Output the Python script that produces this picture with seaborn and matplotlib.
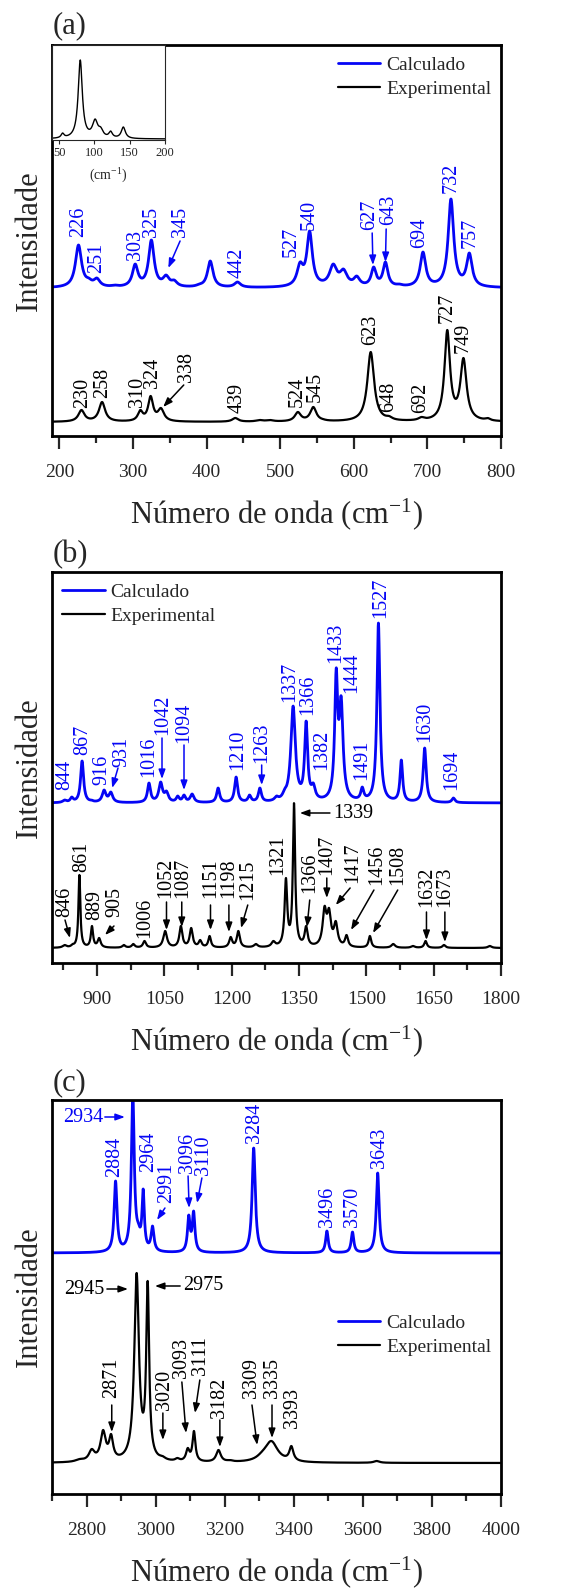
import numpy as np
import pandas as pd
import matplotlib
matplotlib.use("Agg")
import matplotlib.pyplot as plt
from matplotlib.ticker import FixedLocator
import seaborn as sns

sns.set_style("ticks")
plt.rcParams["font.family"] = ["Liberation Serif", "DejaVu Serif"]
plt.rcParams["mathtext.fontset"] = "custom"
plt.rcParams["mathtext.rm"] = "Liberation Serif"
plt.rcParams["mathtext.it"] = "Liberation Serif:italic"

BLUE = "#0505f5"
BLACK = "#000000"

# ---------------- Raman bands (cm-1), intensities (a.u.), FWHM (cm-1) ----------------
# (a) 190-800 cm-1
a_calc_pos = [226, 240, 251, 275, 303, 325, 345, 356, 390, 405, 442, 527, 540, 572, 586, 604, 627, 643, 662, 694, 732, 757]
a_calc_int = [43, 10, 10, 3, 24, 48, 13, 8, 4, 27, 6, 26, 57, 24, 19, 12, 21, 26, 4, 36, 89, 35]
a_calc_fwhm = [10, 10, 10, 10, 9, 9, 10, 10, 10, 9, 10, 10, 9, 12, 12, 10, 8, 8, 10, 9, 9, 9]

a_exp_pos = [230, 258, 310, 324, 338, 439, 472, 486, 524, 545, 558, 623, 648, 692, 727, 749, 782]
a_exp_int = [12, 20, 12, 26, 14, 4, 2, 2, 10, 15, 3, 70, 6, 5, 92, 64, 4]
a_exp_fwhm = [10, 10, 8, 8, 10, 10, 12, 12, 10, 10, 10, 11, 10, 10, 9, 10, 8]

# low-wavenumber inset (40-200 cm-1)
ins_pos = [55, 80, 101, 109, 123, 141]
ins_int = [6, 79, 20, 12, 8, 12]
ins_fwhm = [5, 7, 9, 8, 6, 7]

# (b) 800-1800 cm-1
b_calc_pos = [828, 844, 867, 888, 916, 931, 1016, 1042, 1055, 1080, 1094, 1112, 1170, 1210, 1240, 1263, 1300,
              1318, 1337, 1366, 1382, 1433, 1444, 1491, 1527, 1578, 1630, 1694]
b_calc_int = [3, 6, 42, 3, 13, 11, 20, 21, 12, 7, 8, 9, 15, 26, 8, 15, 7,
              14, 97, 82, 20, 135, 107, 16, 180, 43, 55, 5]
b_calc_fwhm = [10, 8, 8, 8, 10, 10, 8, 10, 10, 8, 8, 10, 8, 8, 8, 8, 10,
               10, 12, 8, 10, 8, 10, 8, 8, 7, 8, 8]

b_exp_pos = [828, 846, 861, 889, 905, 960, 981, 1006, 1052, 1087, 1110, 1130, 1151, 1198, 1215, 1254, 1293,
             1321, 1339, 1366, 1407, 1417, 1432, 1456, 1508, 1560, 1604, 1632, 1673, 1775]
b_exp_int = [3, 4, 73, 22, 10, 3, 4, 7, 17, 22, 20, 8, 12, 11, 17, 4, 7,
             70, 145, 22, 42, 40, 27, 13, 12, 4, 2, 7, 3, 2]
b_exp_fwhm = [10, 8, 5, 6, 8, 8, 8, 8, 10, 8, 8, 8, 7, 8, 8, 10, 10,
              7, 6, 8, 10, 10, 10, 8, 7, 10, 10, 7, 8, 10]

# (c) 2700-4000 cm-1
c_calc_pos = [2884, 2934, 2950, 2964, 2991, 3096, 3110, 3284, 3496, 3570, 3643]
c_calc_int = [72, 160, 30, 64, 27, 38, 42, 105, 22, 21, 80]
c_calc_fwhm = [10, 10, 14, 8, 10, 9, 9, 11, 9, 9, 10]

c_exp_pos = [2780, 2815, 2848, 2871, 2945, 2977, 3020, 3063, 3093, 3111, 3182, 3215, 3309, 3335, 3393, 3640]
c_exp_int = [4, 14, 33, 29, 190, 182, 7, 5, 15, 32, 13, 3, 12, 22, 17, 2]
c_exp_fwhm = [30, 20, 18, 14, 16, 10, 20, 15, 12, 10, 16, 20, 40, 45, 14, 20]

# ---------------- band labels ----------------
a_calc_labels = ["226", "251", "303", "325", "345", "442", "527", "540", "627", "643", "694", "732", "757"]
a_exp_labels = ["230", "258", "310", "324", "338", "439", "524", "545", "623", "648", "692", "727", "749"]
b_calc_labels = ["844", "867", "916", "931", "1016", "1042", "1094", "1210", "1263", "1337", "1366", "1382",
                 "1433", "1444", "1491", "1527", "1630", "1694"]
b_exp_labels = ["846", "861", "889", "905", "1006", "1052", "1087", "1151", "1198", "1215", "1321", "1366",
                "1407", "1417", "1456", "1508", "1632", "1673"]
c_calc_labels = ["2884", "2964", "2991", "3096", "3110", "3284", "3496", "3570", "3643"]
c_exp_labels = ["2871", "3020", "3093", "3111", "3182", "3309", "3335", "3393"]

# label placement: (x, y of text foot, arrow tail, arrow tip)
a_calc_place = [(226, 199, None, None), (251, 163, None, None), (303, 176, None, None), (325, 199, None, None),
                (364, 199, (364, 195), (348, 168)), (442, 158, None, None), (515, 179, None, None),
                (540, 206, None, None), (622, 206, (625, 203), (626, 171)), (647, 211, (644, 207), (643, 174)),
                (690, 188, None, None), (732, 243, None, None), (758, 188, None, None)]
a_exp_place = [(231, 28, None, None), (259, 38, None, None), (306, 29, None, None), (326, 48, None, None),
               (373, 54, (369, 51), (341, 29)), (441, 23, None, None), (523, 29, None, None),
               (547, 34, None, None), (623, 91, None, None), (647, 24, None, None), (691, 23, None, None),
               (727, 113, None, None), (748, 83, None, None)]
b_calc_place = [(829, 173, None, None), (869, 208, None, None), (911, 178, None, None),
                (955, 196, (947, 195), (934, 175)), (1016, 186, None, None),
                (1047, 228, (1045, 225), (1045, 184)), (1094, 220, (1094, 218), (1094, 173)),
                (1214, 193, None, None), (1267, 200, (1267, 198), (1267, 178)), (1330, 261, None, None),
                (1369, 248, None, None), (1401, 193, None, None), (1433, 300, None, None),
                (1468, 270, None, None), (1490, 183, None, None), (1531, 345, None, None),
                (1631, 221, None, None), (1691, 173, None, None)]
b_exp_place = [(829, 46, (829, 43), (840, 25)), (866, 91, None, None), (896, 43, None, None),
               (940, 46, (938, 37), (918, 28)), (1007, 25, None, None), (1053, 65, (1055, 61), (1055, 33)),
               (1091, 65, (1089, 61), (1089, 36)), (1153, 65, (1153, 58), (1153, 33)),
               (1194, 65, (1194, 58), (1194, 31)), (1236, 63, (1236, 58), (1221, 35)),
               (1303, 88, None, None), (1375, 70, (1374, 63), (1368, 36)), (1412, 88, (1412, 85), (1412, 65)),
               (1470, 80, (1464, 75), (1432, 58)), (1523, 78, (1517, 73), (1466, 33)),
               (1571, 78, (1570, 73), (1515, 30)), (1634, 56, (1634, 51), (1634, 23)),
               (1675, 56, (1675, 51), (1675, 21))]
c_calc_place = [(2880, 317, None, None), (2981, 322, None, None), (3033, 291, (3027, 286), (3004, 274)),
                (3091, 321, (3094, 318), (3097, 286)), (3140, 319, (3134, 316), (3120, 291)),
                (3285, 351, None, None), (3499, 267, None, None), (3569, 267, None, None),
                (3647, 326, None, None)]
c_exp_place = [(2873, 96, (2873, 89), (2873, 62)), (3027, 84, (3021, 81), (3021, 54)),
               (3076, 116, (3076, 112), (3088, 61)), (3131, 119, (3128, 114), (3114, 81)),
               (3186, 76, (3186, 74), (3186, 47)), (3279, 96, (3279, 89), (3294, 49)),
               (3337, 96, (3337, 89), (3337, 56)), (3395, 66, None, None)]

# horizontal labels: (text, x, y, ha, tail, tip, color)
b_side = [("1339", 1426, 150, "left", (1419, 150), (1352, 150), BLACK)]
c_side = [("2934", 2848, 377, "right", (2853, 377), (2911, 377), BLUE),
          ("2945", 2853, 205, "right", (2859, 205), (2920, 205), BLACK),
          ("2975", 3079, 208, "left", (3071, 208), (2998, 208), BLACK)]


def band_profile(x, pos, height, fwhm):
    """Lorentzian band sum whose value at each band centre equals the given height."""
    pos = np.asarray(pos, float)
    h = np.asarray(height, float)
    hw = np.asarray(fwhm, float) / 2.0
    k = 1.0 / (1.0 + ((pos[:, None] - pos[None, :]) / hw[None, :]) ** 2)
    amp = h.copy()
    for _ in range(300):
        amp = np.clip(amp + 0.5 * (h - k @ amp), 0, None)
    return (amp[None, :] / (1.0 + ((x[:, None] - pos[None, :]) / hw[None, :]) ** 2)).sum(axis=1)


LABEL_FS = 14.5
ARROW = dict(arrowstyle="-|>,head_length=0.55,head_width=0.2", lw=1.1, mutation_scale=10,
             shrinkA=0, shrinkB=0)


def draw_labels(ax, labels, places, color):
    for txt, (x, y, tail, tip) in zip(labels, places):
        ax.text(x, y, txt, rotation=90, ha="center", va="bottom", color=color, fontsize=LABEL_FS)
        if tail is not None:
            ax.annotate("", xy=tip, xytext=tail, arrowprops=dict(ARROW, color=color))


def draw_side(ax, items):
    for txt, x, y, ha, tail, tip, color in items:
        ax.text(x, y, txt, ha=ha, va="center", color=color, fontsize=LABEL_FS)
        ax.annotate("", xy=tip, xytext=tail, arrowprops=dict(ARROW, color=color))


def style_axes(ax, xlim, ylim, major, minor):
    ax.set_xlim(*xlim)
    ax.set_ylim(*ylim)
    ax.xaxis.set_major_locator(FixedLocator(major))
    ax.xaxis.set_minor_locator(FixedLocator(minor))
    ax.set_yticks([])
    for s in ax.spines.values():
        s.set_visible(True)
        s.set_linewidth(2.0)
        s.set_color("black")
    ax.tick_params(axis="x", which="major", direction="out", length=9, width=1.6,
                   labelsize=14, pad=11, top=False, bottom=True)
    ax.tick_params(axis="x", which="minor", direction="out", length=5, width=1.6, top=False)
    ax.set_xlabel(r"Número de onda (cm$^{\mathregular{-1}}$)", fontsize=22, labelpad=11)
    ax.set_ylabel("Intensidade", fontsize=22, labelpad=6)


def plot_pair(ax, xr, calc, exp, base_calc, base_exp):
    x = np.linspace(xr[0], xr[1], 4000)
    df = pd.DataFrame({
        "nu": np.concatenate([x, x]),
        "I": np.concatenate([base_calc + band_profile(x, *calc), base_exp + band_profile(x, *exp)]),
        "spec": ["Calculado"] * len(x) + ["Experimental"] * len(x),
    })
    sns.lineplot(data=df[df.spec == "Calculado"], x="nu", y="I", ax=ax, color=BLUE, lw=2.0,
                 estimator=None, sort=False, label="Calculado")
    sns.lineplot(data=df[df.spec == "Experimental"], x="nu", y="I", ax=ax, color=BLACK, lw=1.6,
                 estimator=None, sort=False, label="Experimental")


W, H = 566, 1592
fig = plt.figure(figsize=(W / 100, H / 100), dpi=100)


def axes_box(left, top, right, bottom):
    return [left / W, 1 - bottom / H, (right - left) / W, (bottom - top) / H]


LEG = dict(frameon=False, fontsize=14, handlelength=2.2, handletextpad=0.3, labelspacing=0.3,
           borderaxespad=0.3, borderpad=0.2)

# ---- panel (a)
ax_a = fig.add_axes(axes_box(52, 45, 501, 436))
plot_pair(ax_a, (190, 800), (a_calc_pos, a_calc_int, a_calc_fwhm), (a_exp_pos, a_exp_int, a_exp_fwhm), 148, 14)
style_axes(ax_a, (190, 800), (0, 391), np.arange(200, 801, 100), np.arange(250, 800, 100))
draw_labels(ax_a, a_calc_labels, a_calc_place, BLUE)
draw_labels(ax_a, a_exp_labels, a_exp_place, BLACK)
ax_a.legend(loc="upper right", bbox_to_anchor=(1.0, 0.995), **LEG)

# inset with the low-wavenumber region
ax_in = fig.add_axes(axes_box(52, 45, 165, 140))
xi = np.linspace(40, 200, 1500)
sns.lineplot(x=xi, y=band_profile(xi, ins_pos, ins_int, ins_fwhm), ax=ax_in, color=BLACK, lw=1.0,
             estimator=None, sort=False)
ax_in.set_xlim(40, 200)
ax_in.set_ylim(-1, 94)
ax_in.set_yticks([])
ax_in.xaxis.set_major_locator(FixedLocator([50, 100, 150, 200]))
ax_in.tick_params(axis="x", direction="out", length=3, width=0.8, labelsize=9, pad=2)
for s in ax_in.spines.values():
    s.set_linewidth(0.8)
ax_in.set_xlabel("")
ax_in.set_ylabel("")
fig.text(108 / W, 1 - 176 / H, r"(cm$^{\mathregular{-1}}$)", ha="center", va="center", fontsize=10)

# ---- panel (b)
ax_b = fig.add_axes(axes_box(52, 572, 501, 963))
plot_pair(ax_b, (800, 1800), (b_calc_pos, b_calc_int, b_calc_fwhm), (b_exp_pos, b_exp_int, b_exp_fwhm), 160, 15)
style_axes(ax_b, (800, 1800), (0, 391), np.arange(900, 1801, 150), np.arange(825, 1800, 150))
draw_labels(ax_b, b_calc_labels, b_calc_place, BLUE)
draw_labels(ax_b, b_exp_labels, b_exp_place, BLACK)
draw_side(ax_b, b_side)
ax_b.legend(loc="upper left", bbox_to_anchor=(0.0, 0.995), **LEG)

# ---- panel (c)
ax_c = fig.add_axes(axes_box(52, 1100, 501, 1494))
plot_pair(ax_c, (2700, 4000), (c_calc_pos, c_calc_int, c_calc_fwhm), (c_exp_pos, c_exp_int, c_exp_fwhm), 241, 31)
style_axes(ax_c, (2700, 4000), (0, 394), np.arange(2800, 4001, 200), np.arange(2700, 4000, 200))
draw_labels(ax_c, c_calc_labels, c_calc_place, BLUE)
draw_labels(ax_c, c_exp_labels, c_exp_place, BLACK)
draw_side(ax_c, c_side)
ax_c.legend(loc="upper right", bbox_to_anchor=(1.0, 0.48), **LEG)

# panel letters
for letter, ytop in (("(a)", 26), ("(b)", 555), ("(c)", 1083)):
    fig.text(53 / W, 1 - ytop / H, letter, ha="left", va="center", fontsize=22)

fig.savefig("out.png", dpi=100)
